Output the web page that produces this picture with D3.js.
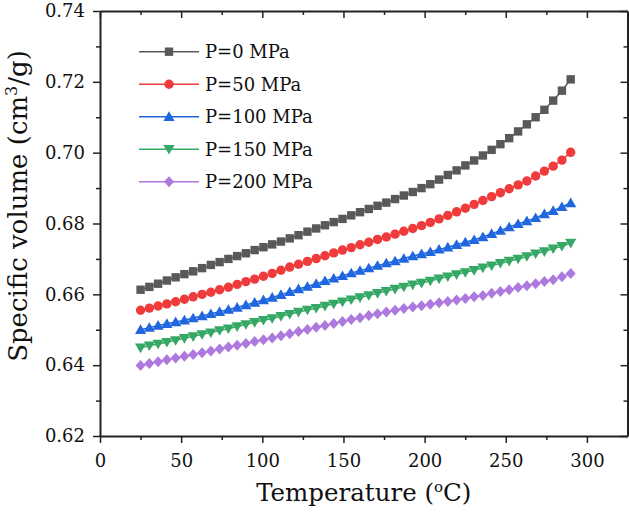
<!DOCTYPE html>
<html>
<head>
<meta charset="utf-8">
<script src="https://cdn.jsdelivr.net/npm/d3@7"></script>
<style>
  html, body { margin: 0; padding: 0; background: #fff; }
  svg { display: block; }
  text { font-family: "DejaVu Serif", "Liberation Serif", serif; fill: #111; }
</style>
</head>
<body>
<svg id="chart" width="629" height="518"></svg>
<script>
// ---- data ----
const temperatures = [25.0, 30.4, 35.8, 41.2, 46.6, 52.0, 57.4, 62.9, 68.3, 73.7,
  79.1, 84.5, 89.9, 95.3, 100.7, 106.1, 111.5, 116.9, 122.3, 127.8,
  133.2, 138.6, 144.0, 149.4, 154.8, 160.2, 165.6, 171.0, 176.4, 181.8,
  187.2, 192.7, 198.1, 203.5, 208.9, 214.3, 219.7, 225.1, 230.5, 235.9,
  241.3, 246.7, 252.1, 257.6, 263.0, 268.4, 273.8, 279.2, 284.6, 290.0];

const seriesNames = ["P=0 MPa", "P=50 MPa", "P=100 MPa", "P=150 MPa", "P=200 MPa"];

const vP0 = [0.6613, 0.6621, 0.6630, 0.6639, 0.6648, 0.6657, 0.6665, 0.6674, 0.6683, 0.6691,
  0.6700, 0.6708, 0.6716, 0.6725, 0.6733, 0.6741, 0.6749, 0.6758, 0.6767, 0.6777,
  0.6786, 0.6795, 0.6804, 0.6813, 0.6823, 0.6832, 0.6841, 0.6850, 0.6859, 0.6869,
  0.6879, 0.6889, 0.6900, 0.6911, 0.6924, 0.6937, 0.6950, 0.6964, 0.6978, 0.6992,
  0.7008, 0.7024, 0.7041, 0.7060, 0.7080, 0.7100, 0.7121, 0.7147, 0.7175, 0.7207];

const vP50 = [0.6555, 0.6561, 0.6567, 0.6573, 0.6579, 0.6586, 0.6593, 0.6600, 0.6606, 0.6613,
  0.6620, 0.6628, 0.6636, 0.6643, 0.6651, 0.6659, 0.6668, 0.6677, 0.6685, 0.6693,
  0.6701, 0.6709, 0.6717, 0.6725, 0.6732, 0.6740, 0.6747, 0.6755, 0.6762, 0.6770,
  0.6778, 0.6786, 0.6794, 0.6803, 0.6813, 0.6823, 0.6833, 0.6843, 0.6854, 0.6865,
  0.6876, 0.6887, 0.6898, 0.6909, 0.6920, 0.6934, 0.6948, 0.6962, 0.6979, 0.7001];

const vP100 = [0.6500, 0.6506, 0.6512, 0.6517, 0.6522, 0.6527, 0.6533, 0.6539, 0.6545, 0.6551,
  0.6557, 0.6563, 0.6570, 0.6577, 0.6584, 0.6591, 0.6599, 0.6607, 0.6615, 0.6622,
  0.6630, 0.6638, 0.6645, 0.6652, 0.6660, 0.6667, 0.6674, 0.6681, 0.6688, 0.6694,
  0.6701, 0.6708, 0.6714, 0.6720, 0.6727, 0.6733, 0.6740, 0.6747, 0.6754, 0.6762,
  0.6771, 0.6780, 0.6790, 0.6799, 0.6807, 0.6816, 0.6827, 0.6836, 0.6847, 0.6858];

const vP150 = [0.6449, 0.6455, 0.6460, 0.6465, 0.6470, 0.6476, 0.6481, 0.6487, 0.6492, 0.6498,
  0.6503, 0.6509, 0.6515, 0.6521, 0.6527, 0.6532, 0.6538, 0.6544, 0.6550, 0.6556,
  0.6561, 0.6567, 0.6573, 0.6579, 0.6585, 0.6591, 0.6597, 0.6603, 0.6609, 0.6615,
  0.6621, 0.6627, 0.6632, 0.6638, 0.6644, 0.6650, 0.6656, 0.6662, 0.6668, 0.6675,
  0.6681, 0.6688, 0.6694, 0.6700, 0.6707, 0.6715, 0.6721, 0.6729, 0.6736, 0.6745];

const vP200 = [0.6399, 0.6405, 0.6410, 0.6415, 0.6420, 0.6425, 0.6430, 0.6435, 0.6440, 0.6446,
  0.6451, 0.6456, 0.6461, 0.6467, 0.6472, 0.6477, 0.6483, 0.6489, 0.6495, 0.6501,
  0.6507, 0.6512, 0.6518, 0.6523, 0.6529, 0.6534, 0.6540, 0.6545, 0.6550, 0.6555,
  0.6560, 0.6564, 0.6568, 0.6572, 0.6576, 0.6580, 0.6584, 0.6588, 0.6593, 0.6597,
  0.6603, 0.6608, 0.6613, 0.6619, 0.6624, 0.6630, 0.6636, 0.6641, 0.6650, 0.6659];

const xTickValues = [0, 50, 100, 150, 200, 250, 300];
const xMinorValues = [25, 75, 125, 175, 225, 275];
const yTickValues = [0.62, 0.64, 0.66, 0.68, 0.70, 0.72, 0.74];
const yMinorValues = [0.63, 0.65, 0.67, 0.69, 0.71, 0.73];

// ---- styles ----
const colors = ["#595959", "#ef3b3b", "#1f66df", "#35a865", "#ad79df"];
const shapes = ["square", "circle", "triUp", "triDown", "diamond"];
const allSeries = [vP0, vP50, vP100, vP150, vP200];

const svg = d3.select("#chart");
const mLeft = 100, mRight = 627.5, mTop = 11, mBottom = 436;

const x = d3.scaleLinear().domain([0, 325]).range([mLeft, mRight]);
const y = d3.scaleLinear().domain([0.62, 0.74]).range([mBottom, mTop]);

function markerPath(shape) {
  switch (shape) {
    case "square": return "M-4.2,-4.2H4.2V4.2H-4.2Z";
    case "circle": return "M4.7,0A4.7,4.7 0 1,1 -4.7,0A4.7,4.7 0 1,1 4.7,0Z";
    case "triUp": return "M0,-5.4L5.6,4.2L-5.6,4.2Z";
    case "triDown": return "M0,5.4L5.6,-4.2L-5.6,-4.2Z";
    case "diamond": return "M0,-5.5L5,0L0,5.5L-5,0Z";
  }
}

// ---- axes ----
const axisColor = "#222";
const gAxes = svg.append("g");

function styleAxis(g) {
  g.selectAll("path.domain").attr("stroke", axisColor).attr("stroke-width", 2);
  g.selectAll(".tick line").attr("stroke", axisColor).attr("stroke-width", 1.5);
  g.selectAll(".tick text").style("font-family", '"DejaVu Serif", serif').style("font-size", "18px").attr("fill", "#111");
}

// bottom
const xb = gAxes.append("g").attr("transform", `translate(0,${mBottom})`)
  .call(d3.axisBottom(x).tickValues(xTickValues).tickSize(7).tickPadding(11).tickSizeOuter(0).tickFormat(d3.format("d")));
styleAxis(xb);
gAxes.append("g").attr("transform", `translate(0,${mBottom})`)
  .call(d3.axisBottom(x).tickValues(xMinorValues).tickSize(4).tickFormat("").tickSizeOuter(0))
  .call(g => { g.select(".domain").remove(); styleAxis(g); });

// top (inward)
const xt = gAxes.append("g").attr("transform", `translate(0,${mTop})`)
  .call(d3.axisBottom(x).tickValues(xTickValues).tickSize(7).tickFormat("").tickSizeOuter(0));
styleAxis(xt);
gAxes.append("g").attr("transform", `translate(0,${mTop})`)
  .call(d3.axisBottom(x).tickValues(xMinorValues).tickSize(4).tickFormat("").tickSizeOuter(0))
  .call(g => { g.select(".domain").remove(); styleAxis(g); });

// left
const yl = gAxes.append("g").attr("transform", `translate(${mLeft},0)`)
  .call(d3.axisLeft(y).tickValues(yTickValues).tickSize(7).tickPadding(8).tickSizeOuter(0).tickFormat(d3.format(".2f")));
styleAxis(yl);
gAxes.append("g").attr("transform", `translate(${mLeft},0)`)
  .call(d3.axisLeft(y).tickValues(yMinorValues).tickSize(4).tickFormat("").tickSizeOuter(0))
  .call(g => { g.select(".domain").remove(); styleAxis(g); });

// right (inward)
const yr = gAxes.append("g").attr("transform", `translate(${mRight},0)`)
  .call(d3.axisLeft(y).tickValues(yTickValues).tickSize(7).tickFormat("").tickSizeOuter(0));
styleAxis(yr);
gAxes.append("g").attr("transform", `translate(${mRight},0)`)
  .call(d3.axisLeft(y).tickValues(yMinorValues).tickSize(4).tickFormat("").tickSizeOuter(0))
  .call(g => { g.select(".domain").remove(); styleAxis(g); });

// ---- series ----
const line = d3.line().x((d, i) => x(temperatures[i])).y(d => y(d));
allSeries.forEach((vals, s) => {
  const g = svg.append("g");
  g.append("path").datum(vals).attr("d", line)
    .attr("fill", "none").attr("stroke", colors[s]).attr("stroke-width", 1.5);
  g.selectAll("path.m").data(vals).join("path").attr("class", "m")
    .attr("transform", (d, i) => `translate(${x(temperatures[i])},${y(d)})`)
    .attr("d", markerPath(shapes[s])).attr("fill", colors[s]);
});

// ---- legend ----
const legend = svg.append("g");
seriesNames.forEach((name, s) => {
  const ly = 51.7 + s * 32.5;
  legend.append("line").attr("x1", 139).attr("x2", 199).attr("y1", ly).attr("y2", ly)
    .attr("stroke", colors[s]).attr("stroke-width", 1.5);
  legend.append("path").attr("transform", `translate(169,${ly})`)
    .attr("d", markerPath(shapes[s])).attr("fill", colors[s]);
  legend.append("text").attr("x", 205).attr("y", ly).attr("dy", "0.36em")
    .style("font-size", "18px").text(name);
});

// ---- axis titles ----
const xTitle = svg.append("text").attr("x", (mLeft + mRight) / 2).attr("y", 501)
  .attr("text-anchor", "middle").style("font-size", "24.5px");
xTitle.append("tspan").text("Temperature (");
xTitle.append("tspan").attr("dy", "-9").style("font-size", "15px").text("o");
xTitle.append("tspan").attr("dy", "9").text("C)");

const yTitle = svg.append("text").attr("transform", `translate(27,206) rotate(-90)`)
  .attr("text-anchor", "middle").style("font-size", "26px");
yTitle.append("tspan").text("Specific volume (cm");
yTitle.append("tspan").attr("dy", "-10").style("font-size", "16px").text("3");
yTitle.append("tspan").attr("dy", "10").text("/g)");
</script>
</body>
</html>
